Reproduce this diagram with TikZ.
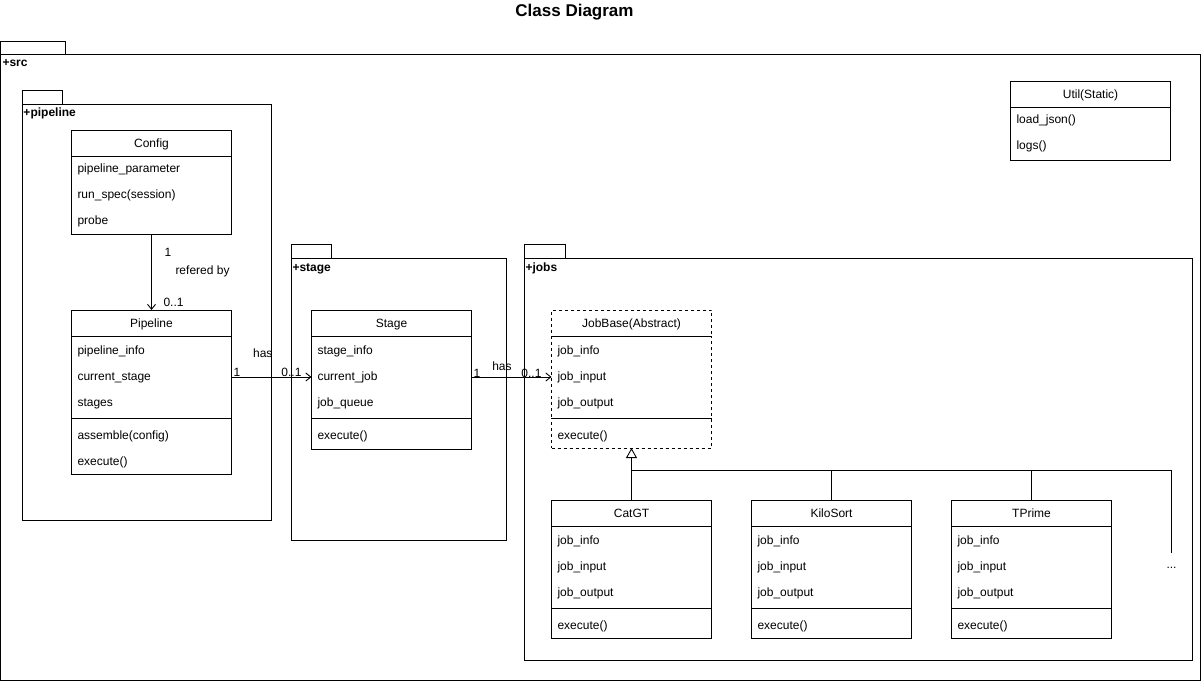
\documentclass[tikz,border=0pt]{standalone}
\usepackage{fontspec}
\setmainfont{Liberation Sans}
\usetikzlibrary{shapes,arrows.meta,positioning,calc}

\begin{document}
\begin{tikzpicture}[x=1pt, y=-1pt, line width=0.9pt, node distance=0pt,
	every node/.style={font=\fontsize{12}{26}\selectfont, inner sep=0pt, outer sep=0pt},
	pkg/.style={draw, anchor=north west},
	pkgname/.style={anchor=north west, font=\fontsize{12}{14}\selectfont\bfseries, text height=9pt, text depth=3pt},
	hdr/.style={draw, minimum width=160pt, minimum height=26pt, text height=10pt, text depth=1pt},
	attr/.style={draw, text width=148pt, align=left, inner xsep=6pt, minimum height=82pt},
	meth/.style={draw, text width=148pt, align=left, inner xsep=6pt, minimum height=30pt, text height=15pt},
	abstr/.style={dash pattern=on 3pt off 3pt},
	assoc/.style={-{Straight Barb[length=5pt, width=8pt]}},
	inherit/.style={-{Triangle[open, length=10pt, width=11pt]}},
	lbl/.style={anchor=base west}]
				\useasboundingbox (-0.5,0) rectangle (1201.5,682);
				\node[font=\fontsize{17}{20}\selectfont\bfseries, anchor=base] (title) at (574,17) {Class Diagram};
				
				% packages
				\node[pkg, minimum width=65pt, minimum height=13pt] (src-tab) at (0,41) {};
				\node[pkg, minimum width=1200pt, minimum height=626pt] (src) at (0,54) {};
				\node[pkgname] (src-name) at ([shift={(2pt,-4pt)}]src.north west) {+src};
				
				\node[pkg, minimum width=40pt, minimum height=14pt] (pl-tab) at (22,90) {};
				\node[pkg, minimum width=249pt, minimum height=416pt] (pl) at (22,104) {};
				\node[pkgname] (pl-name) at ([shift={(1pt,-4pt)}]pl.north west) {+pipeline};
				
				\node[pkg, minimum width=40pt, minimum height=14pt] (st-tab) at (291,244) {};
				\node[pkg, minimum width=215pt, minimum height=282pt] (st) at (291,258) {};
				\node[pkgname] (st-name) at ([shift={(1pt,-4pt)}]st.north west) {+stage};
				
				\node[pkg, minimum width=41pt, minimum height=14pt] (jobs-tab) at (524,244) {};
				\node[pkg, minimum width=668pt, minimum height=402pt] (jobs) at (524,258) {};
				\node[pkgname] (jobs-name) at ([shift={(1pt,-4pt)}]jobs.north west) {+jobs};
				
				% classes
				\node[hdr, anchor=north west] (cfg-h) at (71,130) {Config};
				\node[attr, minimum height=78pt, below=of cfg-h] (cfg-a) {pipeline\_parameter\\run\_spec(session)\\probe};
				
				\node[hdr, below=76pt of cfg-a] (pipe-h) {Pipeline};
				\node[attr, below=of pipe-h] (pipe-a) {pipeline\_info\\current\_stage\\stages};
				\node[meth, minimum height=56pt, below=of pipe-a] (pipe-m) {assemble(config)\\execute()};
				
				\node[hdr, right=80pt of pipe-h] (stg-h) {Stage};
				\node[attr, below=of stg-h] (stg-a) {stage\_info\\current\_job\\job\_queue};
				\node[meth, minimum height=31pt, below=of stg-a] (stg-m) {execute()};
				
				\node[hdr, abstr, right=80pt of stg-h] (jb-h) {JobBase(Abstract)};
				\node[attr, abstr, below=of jb-h] (jb-a) {job\_info\\job\_input\\job\_output};
				\node[meth, abstr, below=of jb-a] (jb-m) {execute()};
				\draw (jb-a.south west) -- (jb-a.south east);
				
				\node[hdr, below=52pt of jb-m] (cat-h) {CatGT};
				\node[attr, below=of cat-h] (cat-a) {job\_info\\job\_input\\job\_output};
				\node[meth, below=of cat-a] (cat-m) {execute()};
				
				\node[hdr, right=40pt of cat-h] (kilo-h) {KiloSort};
				\node[attr, below=of kilo-h] (kilo-a) {job\_info\\job\_input\\job\_output};
				\node[meth, below=of kilo-a] (kilo-m) {execute()};
				
				\node[hdr, right=40pt of kilo-h] (tp-h) {TPrime};
				\node[attr, below=of tp-h] (tp-a) {job\_info\\job\_input\\job\_output};
				\node[meth, below=of tp-a] (tp-m) {execute()};
				
				\node[minimum height=30pt] (more) at (1171,568) {...};
				
				\node[hdr, anchor=north west] (util-h) at (1010,81) {Util(Static)};
				\node[attr, minimum height=53pt, below=of util-h] (util-a) {load\_json()\\logs()};
				
				% relations
				\draw[assoc] (cfg-a) -- node[lbl, pos=.29, xshift=13pt] (cfg-one) {1} node[lbl, pos=.53, xshift=24pt] (cfg-ref) {refered by} node[lbl, pos=.95, xshift=12pt] (cfg-many) {0..1} (pipe-h);
				\draw[assoc] (pipe-a) -- node[lbl, pos=0, xshift=2pt, yshift=1pt] (ps-one) {1} node[lbl, pos=.27, yshift=20pt] (ps-has) {has} node[lbl, anchor=base east, pos=1, xshift=-10pt, yshift=1pt] (ps-many) {0..1} (stg-a);
				\draw[assoc] (stg-a) -- node[lbl, pos=0, xshift=2pt] (sj-one) {1} node[lbl, pos=.26, yshift=7pt] (sj-has) {has} node[lbl, anchor=base east, pos=1, xshift=-10pt] (sj-many) {0..1} (jb-a);
				
				\coordinate (fork) at ([yshift=30pt]cat-h.north);
				\draw[inherit] (cat-h) -- (jb-m);
				\draw (kilo-h.north) |- (fork);
				\draw (tp-h.north) |- (fork);
				\draw (more.north) |- (fork);
\end{tikzpicture}
\end{document}
